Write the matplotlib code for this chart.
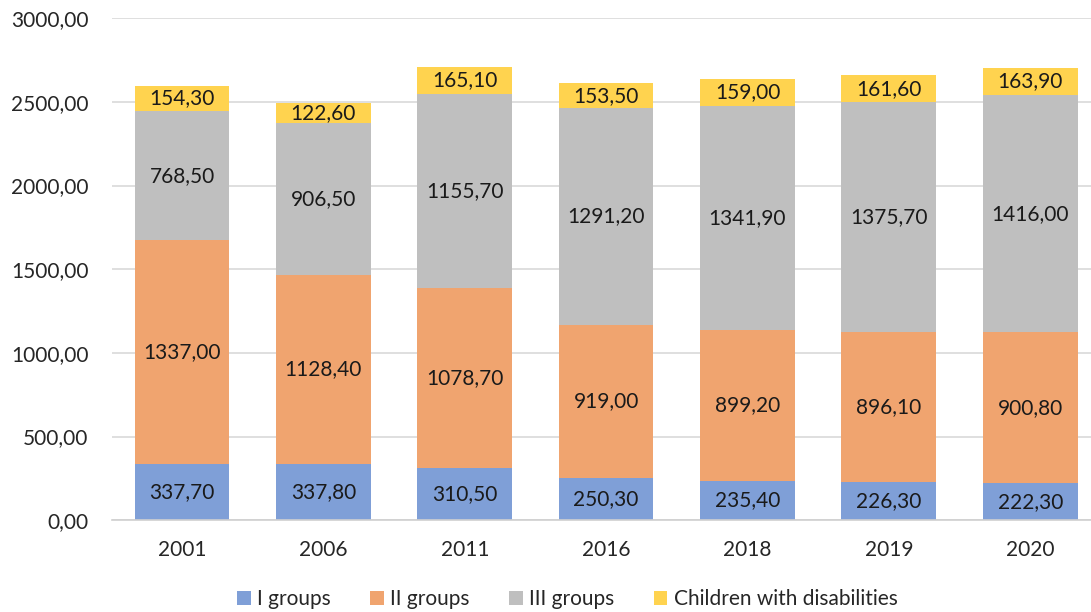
import numpy as np
import matplotlib.pyplot as plt

plt.rcParams['font.family'] = ['Lato', 'DejaVu Sans']

years = ['2001', '2006', '2011', '2016', '2018', '2019', '2020']
group1 = [337.7, 337.8, 310.5, 250.3, 235.4, 226.3, 222.3]
group2 = [1337.0, 1128.4, 1078.7, 919.0, 899.2, 896.1, 900.8]
group3 = [768.5, 906.5, 1155.7, 1291.2, 1341.9, 1375.7, 1416.0]
children = [154.3, 122.6, 165.1, 153.5, 159.0, 161.6, 163.9]

names = ['I groups', 'II groups', 'III groups', 'Children with disabilities']
colors = ['#7F9FD7', '#F0A46F', '#BFBFBF', '#FFD34F']

fig = plt.figure(figsize=(10.91, 6.12), dpi=100)
ax = fig.add_axes([0.1027, 0.150, 0.8973, 0.8203])

x = np.arange(len(years))
bottom = np.zeros(len(years))
for vals, name, col in zip([group1, group2, group3, children], names, colors):
    vals = np.array(vals)
    ax.bar(x, vals, 0.67, bottom=bottom, color=col, label=name, zorder=2)
    for xi, b, v in zip(x, bottom, vals):
        ax.text(xi, b + v / 2, f'{v:.2f}'.replace('.', ','), ha='center', va='center',
                fontsize=15, color='#1a1a1a', zorder=3)
    bottom += vals

ax.set_xlim(-0.495, 6.43)
ax.set_ylim(0, 3000)
ax.set_yticks(np.arange(0, 3001, 500))
ax.set_yticklabels([f'{v},00' for v in range(0, 3001, 500)])
ax.set_xticks(x)
ax.set_xticklabels(years)
ax.yaxis.grid(True, color='#D9D9D9', linewidth=1.2, zorder=0)
ax.set_axisbelow(True)
for s in ['top', 'right', 'left']:
    ax.spines[s].set_visible(False)
ax.spines['bottom'].set_color('#D0D0D0')
ax.spines['bottom'].set_linewidth(1.2)
ax.tick_params(axis='both', length=0, labelsize=15, colors='#262626')
ax.tick_params(axis='x', pad=14)
ax.tick_params(axis='y', pad=17)

ax.legend(loc='center', bbox_to_anchor=(0.465, -0.157), ncol=4, frameon=False,
          fontsize=15, handlelength=0.65, handleheight=0.65, handletextpad=0.3,
          columnspacing=1.9, labelcolor='#262626')

fig.savefig('out.png', dpi=100)
